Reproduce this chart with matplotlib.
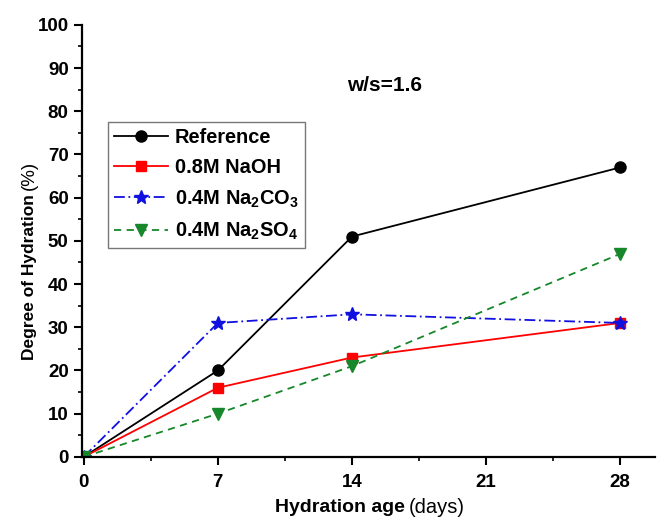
import matplotlib
matplotlib.use("Agg")
from matplotlib import pyplot as plt
from matplotlib.ticker import MultipleLocator

plt.rcParams['font.family'] = ['Liberation Sans', 'DejaVu Sans']
plt.rcParams['font.weight'] = 'bold'
plt.rcParams['mathtext.fontset'] = 'custom'
plt.rcParams['mathtext.rm'] = 'Liberation Sans:bold'
plt.rcParams['mathtext.default'] = 'rm'

days = [0, 7, 14, 28]
reference = [0, 20, 51, 67]
naoh = [0, 16, 23, 31]
na2co3 = [0, 31, 33, 31]
na2so4 = [0, 10, 21, 47]

labels = ['Reference', '0.8M NaOH', '0.4M Na$_2$CO$_3$', '0.4M Na$_2$SO$_4$']

fig = plt.figure(figsize=(6.6, 5.18), dpi=100)
ax = fig.add_axes([0.124, 0.118, 0.868, 0.834])

ax.plot(days, reference, color='black', marker='o', markersize=8, linewidth=1.3, label=labels[0])
ax.plot(days, naoh, color='red', marker='s', markersize=7.5, linewidth=1.3, label=labels[1])
ax.plot(days, na2co3, color='#1010e0', marker='*', markersize=10, linewidth=1.3,
        linestyle=(0, (6, 2, 1, 2)), label=labels[2])
ax.plot(days, na2so4, color='#16872a', marker='v', markersize=9, linewidth=1.3,
        linestyle=(0, (4, 3)), label=labels[3])

ax.set_xlim(-0.1, 29.8)
ax.set_ylim(0, 100)
ax.set_xticks([0, 7, 14, 21, 28])
ax.set_yticks(range(0, 101, 10))
ax.xaxis.set_minor_locator(MultipleLocator(3.5))
ax.yaxis.set_minor_locator(MultipleLocator(5))

ax.spines['top'].set_visible(False)
ax.spines['right'].set_visible(False)
ax.spines['left'].set_linewidth(1.6)
ax.spines['bottom'].set_linewidth(1.6)
ax.tick_params(which='major', direction='out', length=6, width=1.5, labelsize=13.5)
ax.tick_params(axis='x', which='major', pad=6)
ax.tick_params(which='minor', direction='out', length=3, width=1.2)
for t in ax.get_xticklabels() + ax.get_yticklabels():
    t.set_fontweight('bold')

# axis labels: bold name, normal-weight unit
ax.text(-0.092, 0.225, 'Degree of Hydration', transform=ax.transAxes, rotation=90,
        ha='center', va='bottom', fontsize=12.5, fontweight='bold')
ax.text(-0.092, 0.618, '(%)', transform=ax.transAxes, rotation=90,
        ha='center', va='bottom', fontsize=13.5, fontweight='normal')
ax.text(0.564, -0.118, 'Hydration age', transform=ax.transAxes, ha='right', va='center',
        fontsize=14, fontweight='bold')
ax.text(0.571, -0.118, '(days)', transform=ax.transAxes, ha='left', va='center',
        fontsize=14.5, fontweight='normal')

ax.text(15.7, 86, 'w/s=1.6', fontsize=15, fontweight='bold', ha='center', va='center')

leg = ax.legend(loc='upper left', bbox_to_anchor=(0.045, 0.775), borderaxespad=0,
                fancybox=False, edgecolor='#555555', fontsize=14.4, handlelength=2.7,
                labelspacing=0.55, borderpad=0.32, handletextpad=0.35)
leg.get_frame().set_linewidth(1.0)
for t in leg.get_texts():
    t.set_fontweight('bold')

fig.savefig('out.png', dpi=100)
